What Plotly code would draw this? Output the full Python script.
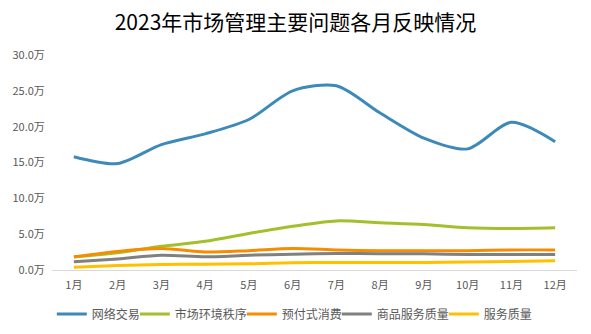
import plotly.graph_objects as go

# Monthly complaint volumes (unit: 万)
months = ["1月", "2月", "3月", "4月", "5月", "6月", "7月", "8月", "9月", "10月", "11月", "12月"]
online_trade = [15.8, 14.85, 17.5, 19.0, 21.0, 25.0, 25.7, 21.9, 18.4, 16.9, 20.6, 17.9]
market_order = [1.8, 2.4, 3.3, 4.0, 5.1, 6.1, 6.85, 6.6, 6.35, 5.9, 5.8, 5.9]
prepaid = [1.84, 2.6, 3.0, 2.5, 2.7, 3.0, 2.8, 2.68, 2.68, 2.68, 2.8, 2.8]
goods_quality = [1.14, 1.55, 2.06, 1.84, 2.06, 2.2, 2.3, 2.26, 2.26, 2.16, 2.16, 2.16]
service_quality = [0.4, 0.63, 0.77, 0.8, 0.86, 1.0, 1.05, 1.05, 1.05, 1.1, 1.2, 1.28]

# name, values, colour, legend entry width (px)
series = [
    ("网络交易", online_trade, "#3d8ab8", 38),
    ("市场环境秩序", market_order, "#a3bf2c", 62),
    ("预付式消费", prepaid, "#f78c00", 50),
    ("商品服务质量", goods_quality, "#808080", 62),
    ("服务质量", service_quality, "#ffc000", 48),
]

font_family = "Noto Sans CJK SC, Noto Sans, sans-serif"

fig = go.Figure()
for name, values, color, lw in series:
    fig.add_trace(go.Scatter(
        x=months, y=values, name=name, mode="lines",
        line=dict(color=color, width=3, shape="spline", smoothing=0.8),
        legendwidth=lw,
    ))

fig.update_layout(
    width=591, height=334,
    margin=dict(l=52, r=14, t=55, b=63.5),
    paper_bgcolor="white", plot_bgcolor="white",
    font=dict(family=font_family, color="#595959", size=11),
    title=dict(
        text="2023年市场管理主要问题各月反映情况",
        x=0.5, xanchor="center", y=0.933, yanchor="middle",
        font=dict(family=font_family, size=21, color="#000000"),
    ),
    showlegend=True,
    legend=dict(
        orientation="h", xref="container", yref="container",
        x=0.498, xanchor="center", y=0.06, yanchor="middle",
        font=dict(size=12, color="#595959"), itemwidth=30,
        traceorder="normal",
    ),
    xaxis=dict(
        type="category", showgrid=False, zeroline=False, automargin=False,
        showline=True, linecolor="#d9d9d9", linewidth=1,
        ticks="outside", ticklen=5, tickcolor="rgba(0,0,0,0)",
        tickfont=dict(size=11, color="#595959"),
        range=[-0.5, 11.5],
    ),
    yaxis=dict(
        range=[0, 30], dtick=5, tickformat=".1f", ticksuffix="万",
        showgrid=False, zeroline=False, showline=False, automargin=False,
        ticks="outside", ticklen=4, tickcolor="rgba(0,0,0,0)",
        tickfont=dict(size=11, color="#595959"),
    ),
)

fig.write_html("out.html")
